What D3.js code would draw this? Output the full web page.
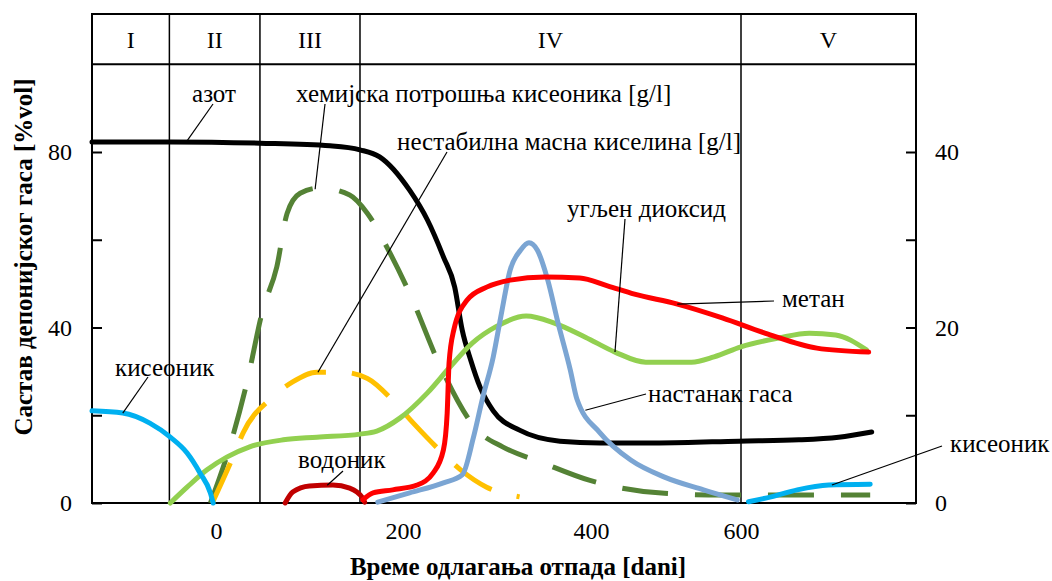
<!DOCTYPE html>
<html>
<head>
<meta charset="utf-8">
<script src="https://cdn.jsdelivr.net/npm/d3@7"></script>
<style>
  body { margin: 0; background: #fff; }
  svg text { font-family: "Liberation Serif", "DejaVu Serif", serif; }
</style>
</head>
<body>
<svg id="chart"></svg>
<script>
// phases and axes
const phases = ['I', 'II', 'III', 'IV', 'V'];
const phaseBreaks = [-50, 47, 154, 600];
const xTicks = [0, 200, 400, 600];
const leftTicks = [0, 20, 40, 60, 80];
const leftLabels = [0, 40, 80];
const rightTicks = [0, 10, 20, 30, 40];
const rightLabels = [0, 20, 40];

// series: [day, value]; gases on the left axis (%vol), COD and acid on the right (g/l)
const nitrogen = [[-133, 82.3], [-49, 82.3], [47, 82.0], [122, 81.4], [154, 80.5], [175, 78.9],
  [207, 71.3], [226, 64.5], [243, 56.1], [255, 49.2], [263, 39.4], [272, 32.6], [282, 26.4],
  [296, 21.0], [324, 16.6], [367, 14.1], [412, 13.7], [491, 13.7], [597, 14.1], [677, 14.4],
  [730, 15.0], [774, 16.2]];
const oxygen = [[-133, 21.0], [-100, 20.5], [-71, 18.2], [-49, 15.0], [-31, 11.4], [-17, 6.8],
  [-6, 2.3], [-3, 0]];
const oxygenLate = [[610, 0.3], [640, 1.4], [675, 3.0], [717, 4.1], [772, 4.3]];
const hydrogen = [[74, 0], [82, 2.5], [100, 3.9], [125, 4.1], [143, 3.4], [157, 1.1], [159, 0.2]];
const methane = [[157, 0.7], [168, 2.3], [189, 3.0], [215, 4.1], [232, 6.8], [243, 12.1],
  [247, 20.5], [249, 31.9], [254, 39.4], [268, 46.2], [289, 49.2], [314, 50.8], [351, 51.5],
  [388, 51.3], [422, 49.5], [458, 47.6], [514, 45.4], [575, 42.2], [636, 38.5], [701, 35.3],
  [770, 34.4]];
const carbonDioxide = [[-49, 0], [-31, 3.6], [-10, 7.5], [12, 10.5], [36, 12.8], [72, 14.4],
  [108, 15.0], [154, 15.7], [172, 16.4], [197, 19.4], [226, 25.1], [250, 31.0], [274, 36.5],
  [299, 40.2], [331, 42.6], [361, 41.0], [394, 37.8], [432, 34.4], [473, 32.1], [534, 32.1],
  [564, 33.3], [600, 35.6], [650, 37.6], [691, 38.7], [726, 38.3], [767, 34.9]];
const gasProduction = [[173, 0.2], [207, 2.3], [243, 4.6], [263, 6.4], [275, 15.0], [285, 24.2],
  [296, 33.3], [304, 42.4], [314, 53.1], [325, 57.6], [334, 59.3], [343, 57.6], [354, 50.8],
  [365, 41.0], [378, 30.3], [385, 23.7], [412, 16.0], [453, 9.8], [498, 5.9], [550, 3.0],
  [595, 0.7]];
const cod = [[-6, 0], [12, 5.5], [33, 13.7], [50, 22.0], [65, 26.9], [76, 33.0], [90, 35.3],
  [111, 35.9], [143, 35.1], [162, 33.0], [186, 28.5], [207, 23.9], [240, 15.5], [279, 8.3],
  [306, 6.4], [348, 4.6], [398, 2.6], [498, 1.1], [575, 0.9], [677, 0.9], [772, 0.9]];
const acid = [[-4, 0], [18, 5.2], [29, 8.0], [61, 12.1], [82, 13.8], [108, 14.9], [135, 14.9],
  [162, 14.2], [189, 11.7], [211, 9.1], [239, 6.0], [261, 3.8], [289, 1.8], [324, 0.7]];

const width = 1052;
const height = 581;
const plotLeft = 92, plotRight = 916, plotTop = 14, bandBottom = 64.25, plotBottom = 503;
const serif = '"Liberation Serif", "DejaVu Serif", serif';

const svg = d3.select('#chart')
  .attr('width', width)
  .attr('height', height);

// tick labels on the time axis are not evenly spaced in the original
const x = d3.scaleLinear()
  .domain([-133, 0, 200, 400, 600, 833])
  .range([plotLeft, 216, 403, 591, 741, plotRight]);
const yL = d3.scaleLinear().domain([0, 100]).range([plotBottom, bandBottom]);
const yR = d3.scaleLinear().domain([0, 50]).range([plotBottom, bandBottom]);

const series = [
  { data: cod, y: yR, color: '#548235', dash: '46,27' },
  { data: acid, y: yR, color: '#ffc000', dash: '44,26' },
  { data: nitrogen, y: yL, color: '#000000' },
  { data: carbonDioxide, y: yL, color: '#92d050' },
  { data: oxygen, y: yL, color: '#00b0f0' },
  { data: oxygenLate, y: yL, color: '#00b0f0' },
  { data: hydrogen, y: yL, color: '#c00000' },
  { data: gasProduction, y: yL, color: '#7ba5d3' },
  { data: methane, y: yL, color: '#ff0000' }
];

// frame and phase grid
svg.append('rect')
  .attr('x', plotLeft).attr('y', plotTop)
  .attr('width', plotRight - plotLeft).attr('height', plotBottom - plotTop)
  .style('fill', 'none').style('stroke', '#000').style('stroke-width', 2);

svg.append('line')
  .attr('x1', plotLeft).attr('x2', plotRight)
  .attr('y1', bandBottom).attr('y2', bandBottom)
  .style('stroke', '#000').style('stroke-width', 2);

svg.selectAll('.phase-line')
  .data(phaseBreaks)
  .enter().append('line')
  .attr('x1', d => x(d)).attr('x2', d => x(d))
  .attr('y1', plotTop).attr('y2', plotBottom)
  .style('stroke', '#000').style('stroke-width', 1.5);

const edges = [x.domain()[0]].concat(phaseBreaks, [x.domain()[x.domain().length - 1]]);
svg.selectAll('.phase-label')
  .data(phases)
  .enter().append('text')
  .attr('x', (d, i) => (x(edges[i]) + x(edges[i + 1])) / 2)
  .attr('y', 48)
  .attr('text-anchor', 'middle')
  .style('font-family', serif)
  .style('font-size', '24px')
  .text(d => d);

// axes
const leftAxis = svg.append('g')
  .attr('transform', `translate(${plotLeft},0)`)
  .call(d3.axisLeft(yL).tickValues(leftTicks).tickSizeInner(-10).tickSizeOuter(0).tickPadding(20)
    .tickFormat(d => leftLabels.includes(d) ? d : ''));
const rightAxis = svg.append('g')
  .attr('transform', `translate(${plotRight},0)`)
  .call(d3.axisRight(yR).tickValues(rightTicks).tickSizeInner(-10).tickSizeOuter(0).tickPadding(19)
    .tickFormat(d => rightLabels.includes(d) ? d : ''));
const bottomAxis = svg.append('g')
  .attr('transform', `translate(0,${plotBottom})`)
  .call(d3.axisBottom(x).tickValues(xTicks).tickSize(0).tickPadding(19));

[leftAxis, rightAxis, bottomAxis].forEach(g => {
  g.attr('font-family', null).attr('font-size', null);
  g.select('.domain').remove();
  g.selectAll('line').style('stroke', '#000').style('stroke-width', 2);
  g.selectAll('text')
    .style('font-family', serif)
    .style('font-size', '24px')
    .style('fill', '#000');
});

// curves
series.forEach(s => {
  const line = d3.line()
    .x(d => x(d[0]))
    .y(d => s.y(d[1]))
    .curve(d3.curveMonotoneX);
  svg.append('path')
    .datum(s.data)
    .attr('d', line)
    .style('fill', 'none')
    .style('stroke', s.color)
    .style('stroke-width', 5)
    .style('stroke-linecap', s.dash ? 'butt' : 'round')
    .style('stroke-dasharray', s.dash || null);
});

// labels with leader lines pointing at a day on a series
function valueAt(data, day) {
  for (let i = 1; i < data.length; i++) {
    if (day <= data[i][0]) {
      const t = (day - data[i - 1][0]) / (data[i][0] - data[i - 1][0]);
      return data[i - 1][1] + t * (data[i][1] - data[i - 1][1]);
    }
  }
  return data[data.length - 1][1];
}

const notes = [
  { text: 'азот', tx: 214, ty: 102, anchor: 'middle', lx: 213, ly: 104, data: nitrogen, y: yL, day: -32 },
  { text: 'хемијска потрошња кисеоника [g/l]', tx: 296, ty: 102, anchor: 'start', lx: 325, ly: 104, data: cod, y: yR, day: 106 },
  { text: 'нестабилна масна киселина [g/l]', tx: 397, ty: 150, anchor: 'start', lx: 447, ly: 152, data: acid, y: yR, day: 109 },
  { text: 'угљен диоксид', tx: 567, ty: 217, anchor: 'start', lx: 625, ly: 219, data: carbonDioxide, y: yL, day: 432 },
  { text: 'метан', tx: 782, ty: 307, anchor: 'start', lx: 774, ly: 301, data: methane, y: yL, day: 515 },
  { text: 'настанак гаса', tx: 648, ty: 402, anchor: 'start', lx: 646, ly: 394, data: gasProduction, y: yL, day: 394 },
  { text: 'кисеоник', tx: 115, ty: 376, anchor: 'start', lx: 148, ly: 377, data: oxygen, y: yL, day: -100 },
  { text: 'водоник', tx: 298, ty: 468, anchor: 'start', lx: 343, ly: 471, data: hydrogen, y: yL, day: 119 },
  { text: 'кисеоник', tx: 950, ty: 452, anchor: 'start', lx: 942, ly: 446, data: oxygenLate, y: yL, day: 721 }
];

notes.forEach(n => {
  svg.append('line')
    .attr('x1', n.lx).attr('y1', n.ly)
    .attr('x2', x(n.day)).attr('y2', n.y(valueAt(n.data, n.day)))
    .style('stroke', '#000').style('stroke-width', 1.2);
  svg.append('text')
    .attr('x', n.tx).attr('y', n.ty)
    .attr('text-anchor', n.anchor)
    .style('font-family', serif)
    .style('font-size', '25px')
    .text(n.text);
});

// axis titles
svg.append('text')
  .attr('x', 518).attr('y', 575)
  .attr('text-anchor', 'middle')
  .style('font-family', serif)
  .style('font-size', '25px').style('font-weight', 'bold')
  .text('Време одлагања отпада [dani]');

svg.append('text')
  .attr('transform', 'translate(32,257) rotate(-90)')
  .attr('text-anchor', 'middle')
  .style('font-family', serif)
  .style('font-size', '25px').style('font-weight', 'bold')
  .text('Састав депонијског гаса [%vol]');
</script>
</body>
</html>
